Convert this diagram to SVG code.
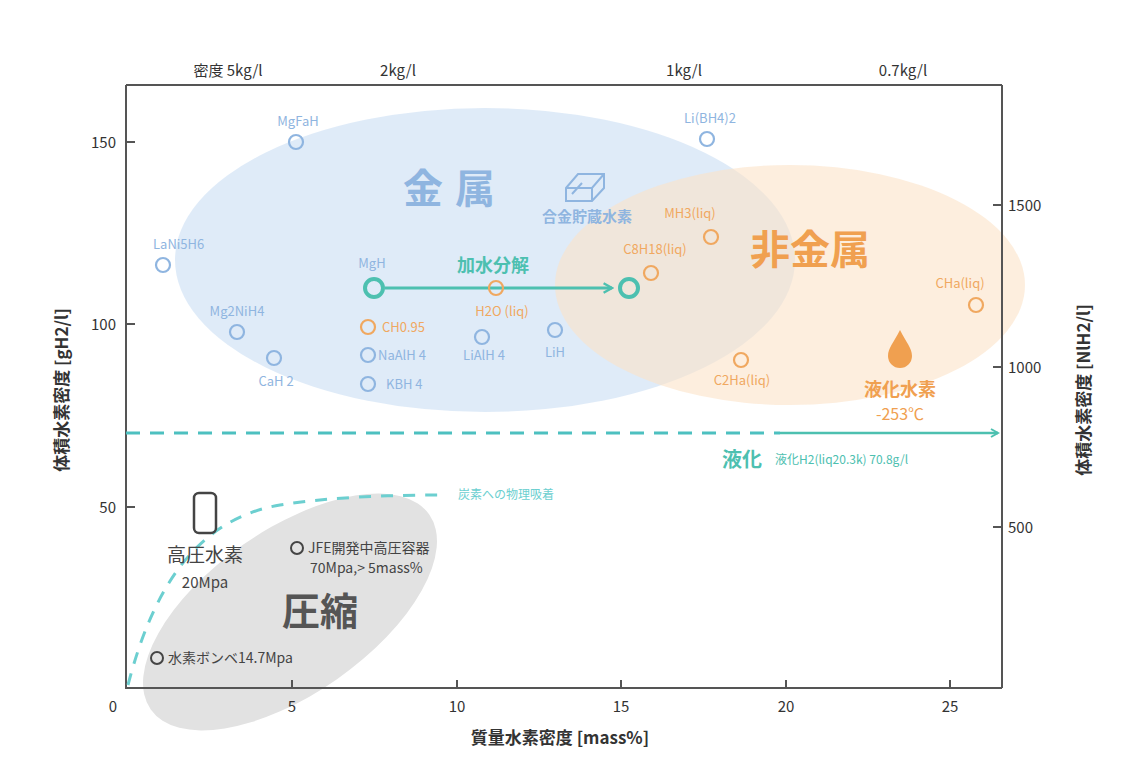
<svg xmlns="http://www.w3.org/2000/svg" width="1143" height="768" viewBox="0 0 1143 768">
<style>
text{font-family:"Noto Sans CJK JP","Noto Sans",sans-serif}
.ax{stroke:#555;stroke-width:2;fill:none}
.tk{font-size:15px;fill:#333}
.b{fill:none;stroke:#8fb5e0;stroke-width:2.2}
.bt{font-size:13px;fill:#8fb5e0}
.o{fill:none;stroke:#f0a860;stroke-width:2.2}
.ot{font-size:13px;fill:#f0a860}
.g{fill:none;stroke:#444;stroke-width:2}
.gt{font-size:14px;fill:#444}
</style>
<defs>
<marker id="ah" viewBox="0 0 10 10" refX="8" refY="5" markerWidth="4" markerHeight="4" orient="auto"><path d="M1,1 L8,5 L1,9" fill="none" stroke="#4dc0b0" stroke-width="2"/></marker>
</defs>
<rect width="1143" height="768" fill="#fff"/>
<g id="regions">
<ellipse cx="485" cy="260" rx="310" ry="152" fill="#d9e8f7" opacity="0.85"/>
<ellipse cx="790" cy="285" rx="235" ry="120" fill="#fbe2c8" opacity="0.6"/>
<ellipse cx="290" cy="612" rx="170" ry="82" transform="rotate(-35 290 612)" fill="#e2e2e2"/>
</g>
<g id="axes">
<path class="ax" d="M126 85 H1002 M126 85 V688 H1002 M1002 85 V688"/>
<path class="ax" d="M126 142 h9 M126 324 h9 M126 507 h9 M292 688 v-8 M457 688 v-8 M621 688 v-8 M786 688 v-8 M950 688 v-8 M1002 205 h-9 M1002 367 h-9 M1002 527 h-9"/>
<text class="tk" x="116" y="148" text-anchor="end">150</text>
<text class="tk" x="116" y="330" text-anchor="end">100</text>
<text class="tk" x="116" y="513" text-anchor="end">50</text>
<text class="tk" x="113" y="712" text-anchor="middle">0</text>
<text class="tk" x="292" y="712" text-anchor="middle">5</text>
<text class="tk" x="457" y="712" text-anchor="middle">10</text>
<text class="tk" x="621" y="712" text-anchor="middle">15</text>
<text class="tk" x="786" y="712" text-anchor="middle">20</text>
<text class="tk" x="950" y="712" text-anchor="middle">25</text>
<text class="tk" x="1008" y="211">1500</text>
<text class="tk" x="1008" y="373">1000</text>
<text class="tk" x="1008" y="533">500</text>
<text class="tk" x="228" y="76" text-anchor="middle" font-size="13">密度 5kg/l</text>
<text class="tk" x="398" y="76" text-anchor="middle" font-size="13">2kg/l</text>
<text class="tk" x="684" y="76" text-anchor="middle" font-size="13">1kg/l</text>
<text class="tk" x="903" y="76" text-anchor="middle" font-size="13">0.7kg/l</text>
<text x="560" y="744" text-anchor="middle" font-size="17" font-weight="bold" fill="#333">質量水素密度 [mass%]</text>
<text transform="translate(68 390) rotate(-90)" text-anchor="middle" font-size="17" font-weight="bold" fill="#333">体積水素密度 [gH2/l]</text>
<text transform="translate(1090 390) rotate(-90)" text-anchor="middle" font-size="17" font-weight="bold" fill="#333">体積水素密度 [NlH2/l]</text>
</g>
<g id="connectors">
<path d="M126 433 H780" stroke="#4dc0c0" stroke-width="3" stroke-dasharray="14 10" fill="none"/>
<path d="M780 433 H998" stroke="#4dc0b0" stroke-width="2.5" fill="none" marker-end="url(#ah)"/>
<path d="M385 288 H612" stroke="#4dc0b0" stroke-width="3" fill="none" marker-end="url(#ah)"/>
<path d="M128 685 C150 600 190 520 280 505 C330 497 390 495 445 495" stroke="#6ccfd0" stroke-width="3" stroke-dasharray="12 10" fill="none"/>
</g>
<g id="labels">
<text x="455" y="203" text-anchor="middle" font-size="40" font-weight="bold" fill="#8fb5e0" letter-spacing="12">金属</text>
<path d="M566 188 L578 174 H604 V188 L592 201 H566 Z M566 188 H592 L604 174 M592 188 V201 M572 194 L582 183" fill="none" stroke="#8fb5e0" stroke-width="2"/>
<text x="587" y="222" text-anchor="middle" font-size="15" font-weight="bold" fill="#8fb5e0">合金貯蔵水素</text>
<text x="810" y="264" text-anchor="middle" font-size="40" font-weight="bold" fill="#f0a050">非金属</text>
<text x="493" y="272" text-anchor="middle" font-size="18" font-weight="bold" fill="#4dc0b0">加水分解</text>
<text x="900" y="396" text-anchor="middle" font-size="18" font-weight="bold" fill="#f0a050">液化水素</text>
<text x="900" y="420" text-anchor="middle" font-size="16" fill="#f0a050">-253℃</text>
<path d="M900 330 C906 342 912 348 912 356 A12 12 0 0 1 888 356 C888 348 894 342 900 330 Z" fill="#f0a050"/>
<text x="742" y="467" text-anchor="middle" font-size="20" font-weight="bold" fill="#4dc0b0">液化</text>
<text x="775" y="464" font-size="12" fill="#4dc0b0">液化H2(liq20.3k) 70.8g/l</text>
<text x="458" y="499" font-size="12" fill="#6ccfd0">炭素への物理吸着</text>
<text x="320" y="625" text-anchor="middle" font-size="38" font-weight="bold" fill="#555">圧縮</text>
<rect x="194" y="493" width="22" height="40" rx="5" fill="none" stroke="#444" stroke-width="2.5"/>
<text x="205" y="562" text-anchor="middle" font-size="19" fill="#444">高圧水素</text>
<text x="205" y="588" text-anchor="middle" font-size="15" fill="#444">20Mpa</text>
</g>
<g id="points">
<circle class="b" cx="296" cy="142" r="7"/><text class="bt" x="298" y="126" text-anchor="middle">MgFaH</text>
<circle class="b" cx="707" cy="139" r="7"/><text class="bt" x="710" y="123" text-anchor="middle">Li(BH4)2</text>
<circle class="b" cx="163" cy="265" r="7"/><text class="bt" x="153" y="249">LaNi5H6</text>
<circle class="b" cx="237" cy="332" r="7"/><text class="bt" x="237" y="316" text-anchor="middle">Mg2NiH4</text>
<circle class="b" cx="274" cy="358" r="7"/><text class="bt" x="276" y="386" text-anchor="middle">CaH 2</text>
<circle fill="none" stroke="#4dc0b0" stroke-width="4" cx="374" cy="288" r="9"/><text class="bt" x="372" y="268" text-anchor="middle">MgH</text>
<circle fill="none" stroke="#4dc0b0" stroke-width="4" cx="629" cy="288" r="9"/>
<circle class="o" cx="496" cy="288" r="7"/><text class="ot" x="502" y="316" text-anchor="middle">H2O (liq)</text>
<circle class="o" cx="368" cy="327" r="7"/><text class="ot" x="382" y="332">CH0.95</text>
<circle class="b" cx="368" cy="355" r="7"/><text class="bt" x="378" y="360">NaAlH 4</text>
<circle class="b" cx="482" cy="337" r="7"/><text class="bt" x="484" y="360" text-anchor="middle">LiAlH 4</text>
<circle class="b" cx="555" cy="330" r="7"/><text class="bt" x="555" y="357" text-anchor="middle">LiH</text>
<circle class="b" cx="368" cy="384" r="7"/><text class="bt" x="386" y="389">KBH 4</text>
<circle class="o" cx="651" cy="273" r="7"/><text class="ot" x="655" y="254" text-anchor="middle">C8H18(liq)</text>
<circle class="o" cx="711" cy="237" r="7"/><text class="ot" x="690" y="218" text-anchor="middle">MH3(liq)</text>
<circle class="o" cx="741" cy="360" r="7"/><text class="ot" x="742" y="385" text-anchor="middle">C2Ha(liq)</text>
<circle class="o" cx="976" cy="305" r="7"/><text class="ot" x="960" y="288" text-anchor="middle">CHa(liq)</text>
<circle class="g" cx="297" cy="548" r="6"/><text class="gt" x="308" y="553">JFE開発中高圧容器</text>
<text class="gt" x="310" y="573">70Mpa,&gt; 5mass%</text>
<circle class="g" cx="157" cy="658" r="6"/><text class="gt" x="168" y="663">水素ボンベ14.7Mpa</text>
</g>
</svg>
